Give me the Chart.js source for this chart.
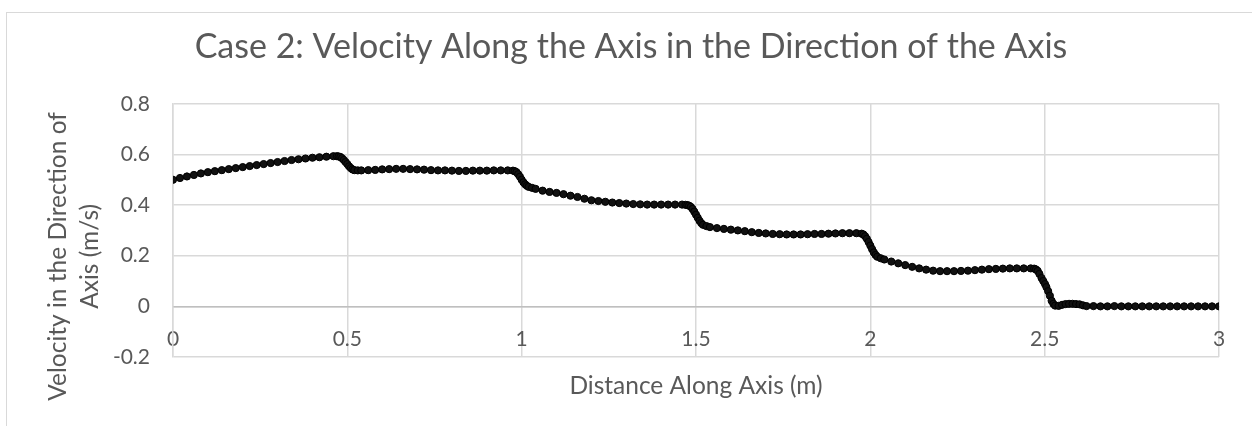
<!DOCTYPE html>
<html>
<head>
<meta charset="utf-8">
<title>Case 2: Velocity Along the Axis</title>
<script src="https://cdn.jsdelivr.net/npm/chart.js@4.4.1/dist/chart.umd.min.js"></script>
<style>
    html, body { margin: 0; padding: 0; background: #fff; }
    #wrap { position: relative; width: 1252px; height: 426px; overflow: hidden; }
    #frame {
        position: absolute; left: 6px; top: 12px; width: 1300px; height: 500px;
        border-left: 1.5px solid #d9d9d9; border-top: 1.5px solid #d9d9d9;
    }
    canvas { position: absolute; left: 0; top: 0; }
</style>
</head>
<body>
<div id="wrap">
    <div id="frame"></div>
    <canvas id="velocityChart" width="1252" height="426"></canvas>
</div>
<script>
// Text
const chartTitle = 'Case 2: Velocity Along the Axis in the Direction of the Axis';
const xTitle = 'Distance Along Axis (m)';
const yTitleLines = ['Velocity in the Direction of', 'Axis (m/s)'];

// Distance along the axis (m)
const distance = [
    0.00, 0.02, 0.04, 0.06, 0.08, 0.10, 0.12, 0.14, 0.16, 0.18,
    0.20, 0.22, 0.24, 0.26, 0.28, 0.30, 0.32, 0.34, 0.36, 0.38,
    0.40, 0.42, 0.44, 0.46, 0.47, 0.475, 0.48, 0.485, 0.49, 0.495,
    0.50, 0.505, 0.51, 0.515, 0.52, 0.53,
    0.54, 0.56, 0.58, 0.60, 0.62, 0.64, 0.66, 0.68, 0.70, 0.72,
    0.74, 0.76, 0.78, 0.80, 0.82, 0.84, 0.86, 0.88, 0.90, 0.92,
    0.94, 0.96, 0.975, 0.98, 0.985, 0.99, 0.995, 1.00, 1.005, 1.01,
    1.015, 1.02, 1.03,
    1.04, 1.06, 1.08, 1.10, 1.12, 1.14, 1.16, 1.18, 1.20, 1.22,
    1.24, 1.26, 1.28, 1.30, 1.32, 1.34, 1.36, 1.38, 1.40, 1.42,
    1.44, 1.46, 1.47, 1.475, 1.48, 1.485, 1.49, 1.495, 1.50, 1.505,
    1.51, 1.515, 1.52, 1.53,
    1.54, 1.56, 1.58, 1.60, 1.62, 1.64, 1.66, 1.68, 1.70, 1.72,
    1.74, 1.76, 1.78, 1.80, 1.82, 1.84, 1.86, 1.88, 1.90, 1.92,
    1.94, 1.96, 1.975, 1.98, 1.985, 1.99, 1.995, 2.00, 2.005, 2.01,
    2.015, 2.02, 2.03,
    2.04, 2.06, 2.08, 2.10, 2.12, 2.14, 2.16, 2.18, 2.20, 2.22,
    2.24, 2.26, 2.28, 2.30, 2.32, 2.34, 2.36, 2.38, 2.40, 2.42,
    2.44, 2.46, 2.47, 2.475, 2.48, 2.485, 2.491, 2.496, 2.501, 2.505,
    2.51, 2.515, 2.52, 2.525, 2.53, 2.54, 2.55, 2.56, 2.57, 2.58,
    2.59, 2.60, 2.61, 2.62,
    2.64, 2.66, 2.68, 2.70, 2.72, 2.74, 2.76, 2.78, 2.80, 2.82,
    2.84, 2.86, 2.88, 2.90, 2.92, 2.94, 2.96, 2.98, 3.00
];

// Velocity in the direction of the axis (m/s)
const velocity = [
    0.500, 0.507, 0.513, 0.519, 0.525, 0.530, 0.534, 0.538, 0.542, 0.546,
    0.550, 0.554, 0.558, 0.562, 0.566, 0.570, 0.574, 0.578, 0.581, 0.584,
    0.587, 0.589, 0.591, 0.593, 0.593, 0.592, 0.590, 0.585, 0.578, 0.570,
    0.562, 0.553, 0.546, 0.541, 0.538, 0.537,
    0.537, 0.538, 0.539, 0.541, 0.542, 0.543, 0.543, 0.542, 0.541, 0.540,
    0.538, 0.537, 0.537, 0.536, 0.535, 0.535, 0.536, 0.536, 0.536, 0.537,
    0.537, 0.537, 0.536, 0.534, 0.530, 0.522, 0.512, 0.500, 0.490, 0.482,
    0.476, 0.472, 0.468,
    0.464, 0.457, 0.452, 0.448, 0.443, 0.437, 0.432, 0.425, 0.419, 0.416,
    0.413, 0.410, 0.408, 0.406, 0.404, 0.403, 0.402, 0.402, 0.402, 0.402,
    0.402, 0.402, 0.401, 0.400, 0.398, 0.393, 0.385, 0.374, 0.362, 0.350,
    0.338, 0.329, 0.322, 0.317,
    0.313, 0.309, 0.306, 0.303, 0.300, 0.297, 0.293, 0.290, 0.288, 0.286,
    0.285, 0.284, 0.284, 0.284, 0.285, 0.286, 0.286, 0.287, 0.288, 0.289,
    0.289, 0.289, 0.287, 0.284, 0.277, 0.267, 0.254, 0.240, 0.226, 0.213,
    0.203, 0.196, 0.190,
    0.185, 0.177, 0.170, 0.163, 0.156, 0.150, 0.145, 0.141, 0.139, 0.139,
    0.139, 0.140, 0.141, 0.143, 0.145, 0.147, 0.148, 0.149, 0.150, 0.150,
    0.150, 0.150, 0.149, 0.146, 0.140, 0.128, 0.112, 0.100, 0.088, 0.076,
    0.060, 0.042, 0.022, 0.010, 0.003, 0.002, 0.006, 0.009, 0.010, 0.010,
    0.009, 0.008, 0.004, 0.001,
    0.001, 0.000, 0.000, 0.001, 0.000, 0.000, 0.000, 0.000, 0.000, 0.000,
    0.000, 0.000, 0.000, 0.000, 0.000, 0.000, 0.000, 0.000, 0.000
];

// Axis ranges
const xRange = { min: 0, max: 3, step: 0.5 };
const yRange = { min: -0.2, max: 0.8, step: 0.2 };

const textColor = '#595959';
const gridColor = '#d9d9d9';
Chart.defaults.font.family = "Lato, 'Open Sans', sans-serif";

// Excel style tick text: 1 not 1.0
const plainNumber = (value) => String(Number(value.toFixed(2)));

// Two-line rotated y title, placed like the Excel one (a bit below plot centre)
const yTitlePlugin = {
    id: 'yTitle',
    afterDraw(chart) {
        const { ctx, chartArea } = chart;
        const cy = (chartArea.top + chartArea.bottom) / 2 + 26;
        ctx.save();
        ctx.translate(chartArea.left - 115, cy);
        ctx.rotate(-Math.PI / 2);
        ctx.font = "24.5px Lato, 'Open Sans', sans-serif";
        ctx.fillStyle = textColor;
        ctx.textAlign = 'center';
        ctx.textBaseline = 'middle';
        yTitleLines.forEach((line, i) => ctx.fillText(line, 0, i * 32));
        ctx.restore();
    }
};

const ctx = document.getElementById('velocityChart').getContext('2d');
const velocityChart = new Chart(ctx, {
    type: 'scatter',
    data: {
        datasets: [{
            label: 'Velocity',
            data: distance.map((d, i) => ({ x: d, y: velocity[i] })),
            pointRadius: 3.6,
            pointBorderWidth: 1,
            pointBorderColor: '#000',
            pointBackgroundColor: '#111',
            showLine: false
        }]
    },
    options: {
        responsive: false,
        animation: false,
        // left padding shifts the centred title to where Excel put it
        layout: { padding: { left: 43, right: 33, top: 0, bottom: 69 } },
        plugins: {
            legend: { display: false },
            tooltip: { enabled: false },
            title: {
                display: true,
                text: chartTitle,
                color: textColor,
                font: { size: 34, weight: 'normal' },
                padding: { top: 27, bottom: 36 }
            }
        },
        scales: {
            x: {
                type: 'linear',
                position: { y: 0 },
                min: xRange.min,
                max: xRange.max,
                grid: { color: gridColor, lineWidth: 1.5, drawTicks: false },
                border: { color: '#bfbfbf', width: 1.5 },
                ticks: {
                    stepSize: xRange.step,
                    color: textColor,
                    font: { size: 21 },
                    padding: 20,
                    maxRotation: 0,
                    callback: plainNumber
                },
                title: {
                    display: true,
                    text: xTitle,
                    color: textColor,
                    font: { size: 24.5 },
                    padding: { top: 0, bottom: 0 }
                }
            },
            y: {
                min: yRange.min,
                max: yRange.max,
                afterFit(scale) { scale.width = 130; },
                grid: { color: gridColor, lineWidth: 1.5, drawTicks: false },
                border: { color: gridColor, width: 1.5 },
                ticks: {
                    stepSize: yRange.step,
                    color: textColor,
                    font: { size: 21 },
                    padding: 23,
                    callback: plainNumber
                }
            }
        }
    },
    plugins: [yTitlePlugin]
});
</script>
</body>
</html>
